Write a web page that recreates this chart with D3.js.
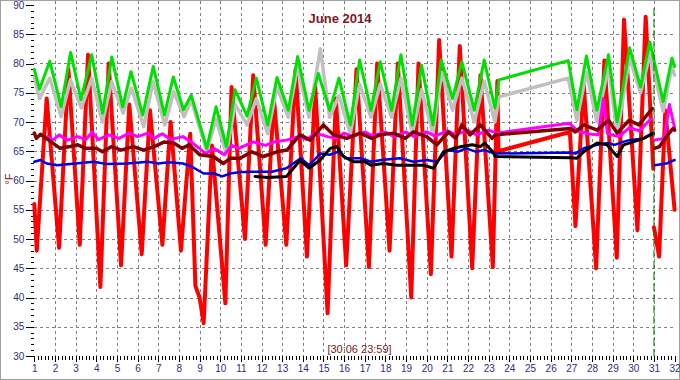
<!DOCTYPE html>
<html><head><meta charset="utf-8">
<script src="https://cdn.jsdelivr.net/npm/d3@7"></script>
<style>body{margin:0;background:#fff;}svg{display:block;font-family:"Liberation Sans",Arial,sans-serif;}</style>
</head><body><svg id="c" width="680" height="380"></svg>
<script>
const title = "June 2014";
const stamp = "[30:06 23:59]";
const unitLabel = "°F";
const dayTicks = [1,2,3,4,5,6,7,8,9,10,11,12,13,14,15,16,17,18,19,20,21,22,23,24,25,26,27,28,29,30,31,32];
const tempTicks = [30,35,40,45,50,55,60,65,70,75,80,85,90];
const nowDay = 31;

const redT = [1.0,1.12,1.6, 2.2,2.65, 3.2,3.6, 4.2,4.6, 5.2,5.6, 6.2,6.6, 7.2,7.6, 8.1,8.55,8.8,9.0, 9.2,9.6, 10.25,10.55, 11.2,11.6, 12.2,12.6, 13.2,13.65, 14.2,14.6, 15.2,15.6, 16.1,16.6, 17.2,17.6, 18.2,18.6, 19.25,19.6, 20.2,20.6, 21.2,21.6, 22.2,22.6, 23.2,23.42,23.47, 26.93, 27.2,27.6, 28.2,28.6, 29.2,29.55, 30.2,30.6, 30.97, 30.99, 31.0,31.25,31.55,32.0];
const redV = [56,48,74, 48.5,79, 49,81.5, 41.8,80, 45.5,73, 47.4,72, 49,70, 48,68,42,40, 35.6,66, 39,76, 50,78, 49,74, 49,79, 47,76, 37.3,74, 45.5,79, 45.2,80, 48,80, 40,80, 44,84, 47,83, 45,78, 45.2,77,65, 68.3, 52.2,76.5, 45,80.5, 46.8,87.5, 51.5,88, 62, null, 52,47,72,55];

const greenT = [1.0,1.25,1.75, 2.3,2.76, 3.26,3.78, 4.31,4.75, 5.28,5.68, 6.25,6.76, 7.3,7.73, 8.22,8.6, 9.35,9.8, 10.3,10.72, 11.3,11.75, 12.3,12.75, 13.3,13.75, 14.3,14.75, 15.3,15.75, 16.3,16.75, 17.3,17.75, 18.3,18.75, 19.3,19.75, 20.3,20.7, 21.25,21.7, 22.3,22.78, 23.3,23.5, 26.85, 27.27,27.73, 28.24,28.8, 29.22,29.82, 30.35,30.8, 31.45,31.87, 32.0];
const greenV = [79,75.6,80.4, 72.6,81.9, 73.8,81.5, 71.5,81.1, 72.6,78.6, 71.2,79.5, 71.2,77.7, 72.1,74.6, 65.5,72.6, 65.8,75.5, 71,77.5, 69.5,77.6, 72,81.2, 72,78.3, 72,77.5, 69.5,80.6, 72,80.3, 72,81.5, 69.5,79.7, 69.5,80.6, 74,80.3, 72,80.6, 72.4,77.2, 80.5, 72.1,81.3, 72,81.5, 70,82.7, 76,83.7, 73.5,80.9, 79.5];

const greyT = [1.0,1.25,1.75, 2.3,2.75, 3.28,3.78, 4.3,4.75, 5.3,5.7, 6.3,6.75, 7.32,7.75, 8.25,8.6, 9.35,9.8, 10.3,10.72, 11.3,11.75, 12.3,12.75, 13.3,13.75, 14.3,14.85, 15.3,15.75, 16.3,16.75, 17.3,17.75, 18.3,18.75, 19.3,19.75, 20.3,20.72, 21.25,21.7, 22.3,22.78, 23.3,23.5, 26.85, 27.27,27.73, 28.24,28.8, 29.22,29.82, 30.35,30.8, 31.45,31.87, 32.0];
const greyV = [77.7,74,77.5, 70.9,77.2, 72.4,77.5, 70,76.9, 71.5,75.8, 69.2,76.9, 69.5,75.2, 70.9,73.8, 65,70.5, 64.5,73, 69.5,74, 68,76, 70.8,79.5, 70.8,82.5, 70.8,74.5, 68,76.5, 70.8,76.5, 70.8,77.5, 68,75.5, 68,78.5, 72,77.5, 70,77, 70,74.3, 77.5, 70.3,78.5, 70,79.5, 68,81, 75,81.5, 71.8,79.5, 78];

const magentaT = [1.65,1.9,2.2,2.6,3.1,3.5,3.8,4.1,4.6,5.1,5.6,6.0,6.5,6.8,7.2,7.6,8.2,8.6,9.3,9.7,10.2,10.55,10.9,11.6,12.2,12.6,13.2,13.8,14.2,14.6,15.2,15.6,16.0,16.4,17.0,17.4,18.0,18.4,19.0,19.4,20.0,20.4,21.0,21.4,22.0,22.4,23.0,23.4,26.9,27.3,27.8,28.3,28.55,28.75,29.3,29.8,30.3,30.85,30.99,31.0,31.5,31.75,32.0];
const magentaV = [67.5,66.9,67.8,66.9,67.5,67,68.3,67,67.8,67.2,68.1,67.5,68.1,67.2,68,67,67.5,66.6,64.6,65.5,64.4,66,65.5,66.6,66,66.6,66.9,67.5,67,68.1,67.5,67.2,68.1,67.5,68.3,67.6,68.3,67.5,68.3,67.5,68.3,67.6,68.5,67.8,68.6,67.8,68.6,68.1,69.8,68.5,68,67.8,74,68,67.5,69,68.5,70.5,null,66.9,67.2,73,69];

const maroonT = [1.0,1.1,1.3,1.7,2.25,2.75,3.1,3.5,4.0,4.3,4.75,5.2,5.8,6.3,6.8,7.3,7.75,8.15,8.5,9.0,9.67,10.15,10.48,10.96,11.53,12.09,12.74,13.23,13.87,14.36,15.0,15.48,16.13,16.77,17.34,17.74,18.39,18.96,19.36,20.0,20.49,21.05,21.4,21.7,22.1,22.59,23.16,23.32,26.95,27.2,27.6,28.25,28.8,29.22,29.8,30.27,30.92,30.99,31.03,31.27,31.6,31.93,32.0];
const maroonV = [68.1,67.2,67.9,66.9,65.5,65.8,66.1,65.5,65.5,64.9,65.8,65.2,65.8,65.2,65.8,66.6,66.4,65.5,66.1,64.4,64.1,62.9,63.8,63.8,64.9,64.1,64.9,65.2,67.8,66.9,69.5,67.8,67.2,68.1,67.2,67.8,68.1,67.2,68.3,67.5,66.1,68.3,67.2,69.5,67.8,69.5,67.2,67.8,68.9,68.3,69.5,68.6,70.3,68.1,70.3,69.5,72.3,null,65.5,65.8,67.5,68.9,68.6];

const blueT = [1.0,1.3,1.6,2.1,3.0,3.9,4.5,5.5,6.5,7.0,7.5,8.2,8.6,8.9,9.2,9.7,10.1,10.5,10.9,11.5,12.5,13.2,13.9,14.3,14.85,15.3,15.7,16.1,16.8,17.3,17.8,18.7,19.36,20.0,20.5,21.0,21.5,21.9,22.4,22.8,23.3,26.95,27.2,27.6,28.25,28.75,29.1,29.5,29.8,30.5,30.95,30.99,31.03,31.6,32.0];
const blueV = [63.2,63.5,62.9,62.6,62.9,63.2,62.8,62.9,63.2,62.9,63.1,62.9,62.4,61.8,61.2,61.2,60.7,61.2,61.4,61.5,61.5,62.1,63.8,62.6,64.6,64.4,64.9,63.8,63.8,63.2,63.5,63.8,63.2,63.5,63.2,65.2,64.9,65.5,64.9,65.2,64.6,64.8,64.6,65.5,66.1,66.4,66.1,66.6,66.9,67.2,68.1,null,62.6,62.9,63.5];

const blackT = [11.69,12.3,13.2,13.55,13.87,14.3,14.84,15.33,15.65,15.97,16.45,17.0,17.3,17.9,18.55,19.2,19.85,20.33,20.81,21.3,21.7,22.2,22.6,22.8,23.2,23.32,26.95,27.27,27.6,28.25,28.73,29.22,29.53,30.0,30.5,30.98];
const blackV = [60.7,60.5,60.7,62.1,63.5,62.1,63.5,65.5,65.8,64.1,63.2,63.2,62.6,62.9,62.6,62.6,62.6,62.1,64.9,65.5,65.8,66.1,65.8,66.4,64.9,64.1,63.9,63.8,64.9,66.4,66.1,64.1,66.1,66.6,67.2,68.1];

const svg = d3.select("#c");
const x = d3.scaleLinear().domain([1,32]).range([34.3,674.6]);
const y = d3.scaleLinear().domain([30,90]).range([356,5]);

svg.append("rect").attr("x",0.5).attr("y",0.5).attr("width",679).attr("height",379)
  .attr("fill","#fff").attr("stroke","#a0a0a0");

const grid = svg.append("g").attr("stroke","#808080").attr("stroke-width",1).attr("stroke-dasharray","3,3").attr("shape-rendering","crispEdges");
grid.selectAll("line.v").data(dayTicks.filter(d=>d>1 && d<32)).join("line").attr("class","v")
  .attr("x1",d=>Math.round(x(d))+0.5).attr("x2",d=>Math.round(x(d))+0.5).attr("y1",1).attr("y2",y(30));
grid.selectAll("line.h").data(tempTicks.filter(d=>d>30 && d<90)).join("line").attr("class","h")
  .attr("x1",x(1)).attr("x2",x(32)).attr("y1",d=>Math.round(y(d))+0.5).attr("y2",d=>Math.round(y(d))+0.5);

const axisColor = "#2e2e78";
const yMajor = svg.append("g").attr("transform",`translate(${x(1)},0)`)
  .call(d3.axisLeft(y).tickValues(tempTicks).tickSize(8).tickPadding(2).tickFormat(d3.format("d")));
const yMinor = svg.append("g").attr("transform",`translate(${x(1)},0)`)
  .call(d3.axisLeft(y).tickValues(d3.range(30,91,1)).tickSize(3).tickFormat(""));
const xMajor = svg.append("g").attr("transform",`translate(0,${y(30)})`)
  .call(d3.axisBottom(x).tickValues(dayTicks).tickSize(6).tickPadding(3).tickFormat(d3.format("d")));
const xMinor = svg.append("g").attr("transform",`translate(0,${y(30)})`)
  .call(d3.axisBottom(x).tickValues(d3.range(1,32.001,1/6)).tickSize(4).tickFormat(""));
[yMajor,yMinor,xMajor,xMinor].forEach(a=>{
  a.select(".domain").remove();
  a.selectAll("line").attr("stroke","#000").attr("shape-rendering","crispEdges");
  a.selectAll("text").attr("fill",axisColor).attr("font-size",10).attr("font-family","Liberation Sans, Arial, sans-serif");
});

const line = d3.line().defined(d=>d[1]!=null).x(d=>x(d[0])).y(d=>y(d[1]));
const series = [
  {t:redT, v:redV, c:"#ff0000", w:4},
  {t:greyT, v:greyV, c:"#c0c0c0", w:3.5},
  {t:greenT, v:greenV, c:"#00e000", w:3},
  {t:magentaT, v:magentaV, c:"#ff00ff", w:3},
  {t:maroonT, v:maroonV, c:"#800000", w:3.5},
  {t:blueT, v:blueV, c:"#0000e0", w:2.5},
  {t:blackT, v:blackV, c:"#000000", w:3}
];
svg.append("g").selectAll("path").data(series).join("path")
  .attr("d",s=>line(d3.zip(s.t,s.v)))
  .attr("fill","none").attr("stroke",s=>s.c).attr("stroke-width",s=>s.w)
  .attr("stroke-linejoin","round").attr("stroke-linecap","round");

svg.append("line").attr("x1",x(nowDay)).attr("x2",x(nowDay)).attr("y1",8).attr("y2",y(30))
  .attr("stroke","#008000").attr("stroke-width",1).attr("stroke-dasharray","8,3");

svg.append("text").attr("x",340).attr("y",23).attr("text-anchor","middle")
  .attr("font-size",13).attr("font-weight","bold").attr("fill","#7a1a1a").text(title);
svg.append("text").attr("x",359.5).attr("y",353).attr("text-anchor","middle")
  .attr("font-size",11).attr("fill","#7a1a1a").text(stamp);
svg.append("text").attr("transform","translate(13,179) rotate(-90)").attr("text-anchor","middle")
  .attr("font-size",11).attr("fill","#7a1a1a").text(unitLabel);
</script></body></html>
